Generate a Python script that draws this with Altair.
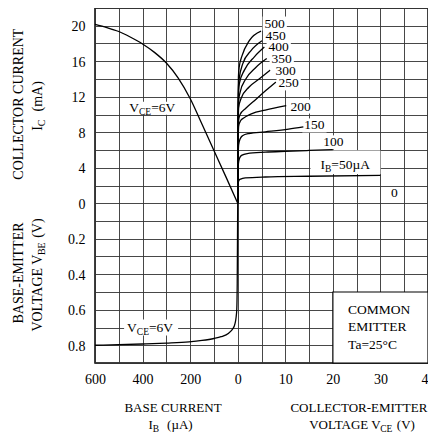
import altair as alt
import pandas as pd

FONT = "Liberation Serif"

# ---------------- data ----------------
# Output characteristics: collector current IC (mA) vs VCE (V), one curve per IB (uA)
# (the IB = 0 curve lies on the IC = 0 grid line, only its label is visible)
vce_ib50 = [0.0, 0.05, 0.1, 0.3, 0.6, 1.6, 5.8, 15.0, 30.0]
ic_ib50 = [0.0, 1.5, 2.3, 2.6, 2.72, 2.85, 2.96, 3.04, 3.15]
vce_ib100 = [0.0, 0.05, 0.15, 0.4, 0.8, 2.0, 5.8, 10.0, 15.0, 20.0]
ic_ib100 = [0.0, 3.0, 4.5, 5.1, 5.4, 5.6, 5.75, 5.85, 5.95, 6.05]
vce_ib150 = [0.0, 0.05, 0.2, 0.5, 1.0, 2.3, 5.8, 10.7, 13.8]
ic_ib150 = [0.0, 4.0, 6.6, 7.25, 7.6, 7.85, 8.05, 8.35, 8.6]
vce_ib200 = [0.0, 0.05, 0.2, 0.6, 1.25, 3.0, 5.8, 10.2]
ic_ib200 = [0.0, 5.0, 8.7, 9.3, 9.6, 10.1, 10.5, 11.0]
vce_ib250 = [0.0, 0.05, 0.15, 0.5, 1.7, 3.8, 5.9, 8.0]
ic_ib250 = [0.0, 6.0, 9.2, 10.0, 10.7, 11.7, 12.7, 13.65]
vce_ib300 = [0.0, 0.05, 0.2, 0.7, 2.4, 4.5, 6.8]
ic_ib300 = [0.0, 6.5, 10.8, 11.8, 13.1, 14.0, 15.0]
vce_ib350 = [0.0, 0.05, 0.2, 0.5, 1.7, 3.8, 6.1]
ic_ib350 = [0.0, 7.0, 11.6, 12.5, 14.0, 15.3, 16.3]
vce_ib400 = [0.0, 0.05, 0.2, 0.35, 1.4, 3.5, 5.6]
ic_ib400 = [0.0, 7.5, 12.6, 13.5, 15.0, 16.5, 17.6]
vce_ib450 = [0.0, 0.05, 0.15, 0.3, 1.05, 2.8, 5.1]
ic_ib450 = [0.0, 8.0, 13.0, 14.0, 15.7, 17.2, 18.3]
vce_ib500 = [0.0, 0.05, 0.15, 0.3, 0.9, 2.4, 4.9]
ic_ib500 = [0.0, 8.5, 14.2, 15.3, 16.6, 18.3, 19.4]

# Transfer characteristic (VCE = 6 V): IC (mA) vs IB (uA)
ib_transfer = [0, 50, 100, 150, 200, 250, 300, 350, 400, 450, 500, 550, 600]
ic_transfer = [0.0, 3.0, 5.95, 8.9, 11.8, 14.1, 15.8, 17.0, 17.95, 18.7, 19.35, 19.8, 20.15]

# Input characteristic (VCE = 6 V): VBE (V) vs IB (uA)
ib_input = [0, 2, 4, 7, 10, 14, 25, 38, 70, 100, 150, 205, 300, 400, 500, 600]
vbe_input = [0.0, 0.45, 0.6, 0.645, 0.67, 0.69, 0.715, 0.732, 0.752, 0.762, 0.773, 0.781,
             0.788, 0.793, 0.797, 0.80]

# tick labels
ib_ticks = [600, 400, 200, 0]
vce_ticks = [10, 20, 30, 40]
ic_ticks = [0, 4, 8, 12, 16, 20]
vbe_ticks = [0.2, 0.4, 0.6, 0.8]

# curve labels (anchor in VCE V / IC mA)
lbl_text = ["500", "450", "400", "350", "300", "250", "200", "150", "100", "0"]
lbl_vce = [5.65, 5.86, 6.49, 7.12, 7.96, 8.58, 11.1, 14.0, 18.0, 32.2]
lbl_ic = [20.25, 18.9, 17.55, 16.2, 14.85, 13.5, 10.9, 8.77, 6.86, 1.12]

# ---------------- layout ----------------
W, H = 333, 355
LEFT, TOP = 87, 0
PAGE_X0, PAGE_Y0 = 8 + LEFT, 8 + TOP
GX = (-6, 8)
GY = (-9, 11)
PXX = W / (GX[1] - GX[0])
PXY = H / (GY[1] - GY[0])


def gx_ib(ib):
    return -ib / 100.0


def gx_vce(v):
    return v / 5.0


def gy_ic(i):
    return i / 2.0


def gy_vbe(v):
    return -v * 10.0


TW = {' ': 250, '(': 333, ')': 333, '-': 333, '.': 250, '=': 564, '°': 400, 'µ': 500,
      'A': 722, 'B': 667, 'C': 667, 'E': 611, 'G': 722, 'I': 333, 'L': 611, 'M': 889,
      'N': 722, 'O': 722, 'R': 667, 'S': 556, 'T': 611, 'U': 722, 'V': 722,
      'a': 444, 'm': 778}


def tw(s, size):
    return sum(TW.get(ch, 500) for ch in s) * size / 1000.0


def expr_from(mapping):
    parts = "".join(f"datum.value == {round(k, 6):g} ? '{s}' : " for k, s in mapping.items())
    return parts + "''"


x_map = {gx_ib(v): f"{v:g}" for v in ib_ticks}
x_map.update({gx_vce(v): f"{v:g}" for v in vce_ticks})
y_map = {gy_ic(v): f"{v:g}" for v in ic_ticks}
y_map.update({gy_vbe(v): f"{v:.1f}" for v in vbe_ticks})

xs = alt.Scale(domain=list(GX), nice=False, zero=False)
ys = alt.Scale(domain=list(GY), nice=False, zero=False)

common_axis = dict(grid=True, gridColor="#333333", gridWidth=0.9, domain=False, ticks=False,
                   labelFont=FONT, labelFontSize=14, labelColor="black",
                   labelOverlap=False, labelFlush=False, labelBound=False, title=None)
xaxis = alt.Axis(values=list(range(GX[0], GX[1] + 1)), labelExpr=expr_from(x_map),
                 labelPadding=9, **common_axis)
yaxis = alt.Axis(values=list(range(GY[0], GY[1] + 1)), labelExpr=expr_from(y_map),
                 labelPadding=10, labelOffset=1, **common_axis)


def X(f):
    return alt.X(f, type="quantitative", scale=xs, axis=xaxis)


def Y(f):
    return alt.Y(f, type="quantitative", scale=ys, axis=yaxis)


# ---------------- data frames ----------------
series = [(50, vce_ib50, ic_ib50), (100, vce_ib100, ic_ib100),
          (150, vce_ib150, ic_ib150), (200, vce_ib200, ic_ib200), (250, vce_ib250, ic_ib250),
          (300, vce_ib300, ic_ib300), (350, vce_ib350, ic_ib350), (400, vce_ib400, ic_ib400),
          (450, vce_ib450, ic_ib450), (500, vce_ib500, ic_ib500)]
rows = []
for ib, vv, ii in series:
    for v, i in zip(vv, ii):
        rows.append({"ib": ib, "vce": v, "ic": i})
out_df = pd.DataFrame(rows)
tr_df = pd.DataFrame({"ib": ib_transfer, "ic": ic_transfer})
in_df = pd.DataFrame({"ib": ib_input, "vbe": vbe_input})

line_style = dict(color="black", strokeWidth=1.3, interpolate="monotone")

out_layer = alt.Chart(out_df).transform_calculate(
    gx="datum.vce / 5", gy="datum.ic / 2"
).mark_line(**line_style).encode(x=X("gx"), y=Y("gy"), detail="ib:N")

tr_layer = alt.Chart(tr_df).transform_calculate(
    gx="-datum.ib / 100", gy="datum.ic / 2"
).mark_line(**line_style).encode(x=X("gx"), y=Y("gy"))

in_layer = alt.Chart(in_df).transform_calculate(
    gx="-datum.ib / 100", gy="-datum.vbe * 10"
).mark_line(**line_style).encode(x=X("gx"), y=Y("gy"))

# ---------------- rich text helpers ----------------
# a piece = (text, font size, dy, extra gap in px before the piece; negative = kerning)


def pieces_width(pieces):
    return sum(tw(t, s) + g for t, s, _, g in pieces)


# ---------------- label backgrounds ----------------
LBL = 13.5
boxes = []
for t, v, i in zip(lbl_text, lbl_vce, lbl_ic):
    w = tw(t, LBL)
    gx, gy = gx_vce(v), gy_ic(i)
    hh = 6.0 if t == "0" else 7.0
    boxes.append({"x0": gx - 2 / PXX, "x1": gx + (w + 2) / PXX,
                  "y0": gy - hh / PXY, "y1": gy + hh / PXY})
# IB=50uA box
boxes.append({"x0": gx_vce(15.3), "x1": gx_vce(30.0), "y0": gy_ic(3.3), "y1": gy_ic(5.95)})

vce6_pieces = [("V", LBL, 0, 0), ("CE", 9.5, 4, 0), ("=6V", LBL, 0, 0)]
vce6_w = pieces_width(vce6_pieces)
top6 = (gx_ib(456), gy_ic(10.7))
bot6 = (gx_ib(465), gy_vbe(0.70))
boxes.append({"x0": top6[0] - 3 / PXX, "x1": top6[0] + (vce6_w + 3) / PXX,
              "y0": top6[1] - 6.5 / PXY, "y1": top6[1] + 6.5 / PXY})
boxes.append({"x0": bot6[0] - 3 / PXX, "x1": bot6[0] + (vce6_w + 5) / PXX,
              "y0": bot6[1] - 8 / PXY, "y1": bot6[1] + 8 / PXY})
box_df = pd.DataFrame(boxes)
box_layer = alt.Chart(box_df).mark_rect(fill="white").encode(
    x=X("x0"), x2="x1", y=Y("y0"), y2="y1")

# COMMON EMITTER note box (VCE 20-40 V, VBE 0.5-0.9 V)
note_df = pd.DataFrame({"x0": [gx_vce(20)], "x1": [gx_vce(40)],
                        "y0": [gy_vbe(0.5)], "y1": [gy_vbe(0.9)]})
note_box = alt.Chart(note_df).mark_rect(fill="white", stroke="black", strokeWidth=1.2).encode(
    x=X("x0"), x2="x1", y=Y("y0"), y2="y1")

# ---------------- texts ----------------
texts = []
lbl_df = pd.DataFrame({"t": lbl_text, "gx": [gx_vce(v) for v in lbl_vce],
                       "gy": [gy_ic(i) for i in lbl_ic]})
texts.append(alt.Chart(lbl_df).mark_text(font=FONT, fontSize=LBL, align="left",
                                         baseline="middle", color="black").encode(
    x=X("gx"), y=Y("gy"), text="t:N"))


def rich_plot(gx, gy, pieces):
    df = pd.DataFrame({"gx": [gx], "gy": [gy]})
    out = []
    cum = 0.0
    for t, s, dy, g in pieces:
        cum += g
        out.append(alt.Chart(df).mark_text(text=t, font=FONT, fontSize=s, dx=cum, dy=dy,
                                           align="left", baseline="middle", color="black"
                                           ).encode(x=X("gx"), y=Y("gy")))
        cum += tw(t, s)
    return out


texts += rich_plot(gx_vce(17.4), gy_ic(4.27),
                   [("I", LBL, 0, 0), ("B", 9.5, 4, 0), ("=50µA", LBL, 0, 0)])
texts += rich_plot(top6[0], top6[1], vce6_pieces)
texts += rich_plot(bot6[0], bot6[1], vce6_pieces)

note_lines = ["COMMON", "EMITTER", "Ta=25°C"]
note_vbe = [0.602, 0.696, 0.80]
note_df2 = pd.DataFrame({"t": note_lines, "gx": [gx_vce(23.2)] * 3,
                         "gy": [gy_vbe(v) for v in note_vbe]})
texts.append(alt.Chart(note_df2).mark_text(font=FONT, fontSize=LBL, align="left",
                                           baseline="middle", color="black").encode(
    x=X("gx"), y=Y("gy"), text="t:N"))

dummy = pd.DataFrame({"k": [0]})


def rich_abs(px, py, pieces, angle=0):
    cum = -pieces_width(pieces) / 2
    out = []
    for t, s, dy, g in pieces:
        cum += g
        kw = dict(text=t, font=FONT, fontSize=s, dx=cum, dy=dy, align="left",
                  baseline="middle", color="black")
        if angle:
            kw["angle"] = angle
        out.append(alt.Chart(dummy).mark_text(**kw).encode(
            x=alt.value(px - PAGE_X0), y=alt.value(py - PAGE_Y0)))
        cum += tw(t, s)
    return out


texts += rich_abs(19, 104, [("COLLECTOR CURRENT", 14, 0, 0)], angle=270)
texts += rich_abs(38, 106, [("I", 14, 0, 0), ("C", 10, 4, 0), ("(mA)", 14, 0, 8)], angle=270)
texts += rich_abs(19, 273, [("BASE-EMITTER", 14, 0, 0)], angle=270)
texts += rich_abs(38, 275, [("VOLTAGE V", 14, 0, 0), ("BE", 10, 4, -3.2), ("(V)", 14, 0, 4.5)],
                  angle=270)
texts += rich_abs(173, 408, [("BASE CURRENT", 13, 0, 0)])
texts += rich_abs(170, 425, [("I", 13, 0, 0), ("B", 9.5, 3.5, 0), ("(µA)", 13, 0, 8)])
texts += rich_abs(359, 408, [("COLLECTOR-EMITTER", 13, 0, 0)])
texts += rich_abs(362, 425, [("VOLTAGE V", 13, 0, 0), ("CE", 9.5, 3.5, -3.0), ("(V)", 13, 0, 4.5)])

chart = alt.layer(box_layer, note_box, out_layer, tr_layer, in_layer, *texts).properties(
    width=W, height=H,
    padding={"left": LEFT, "top": TOP, "right": 0, "bottom": 70},
    autosize=alt.AutoSizeParams(type="none"),
    background="white",
).configure_view(stroke="black", strokeWidth=1.5)

chart.save("out.html", embed_options={"renderer": "svg", "actions": False})
